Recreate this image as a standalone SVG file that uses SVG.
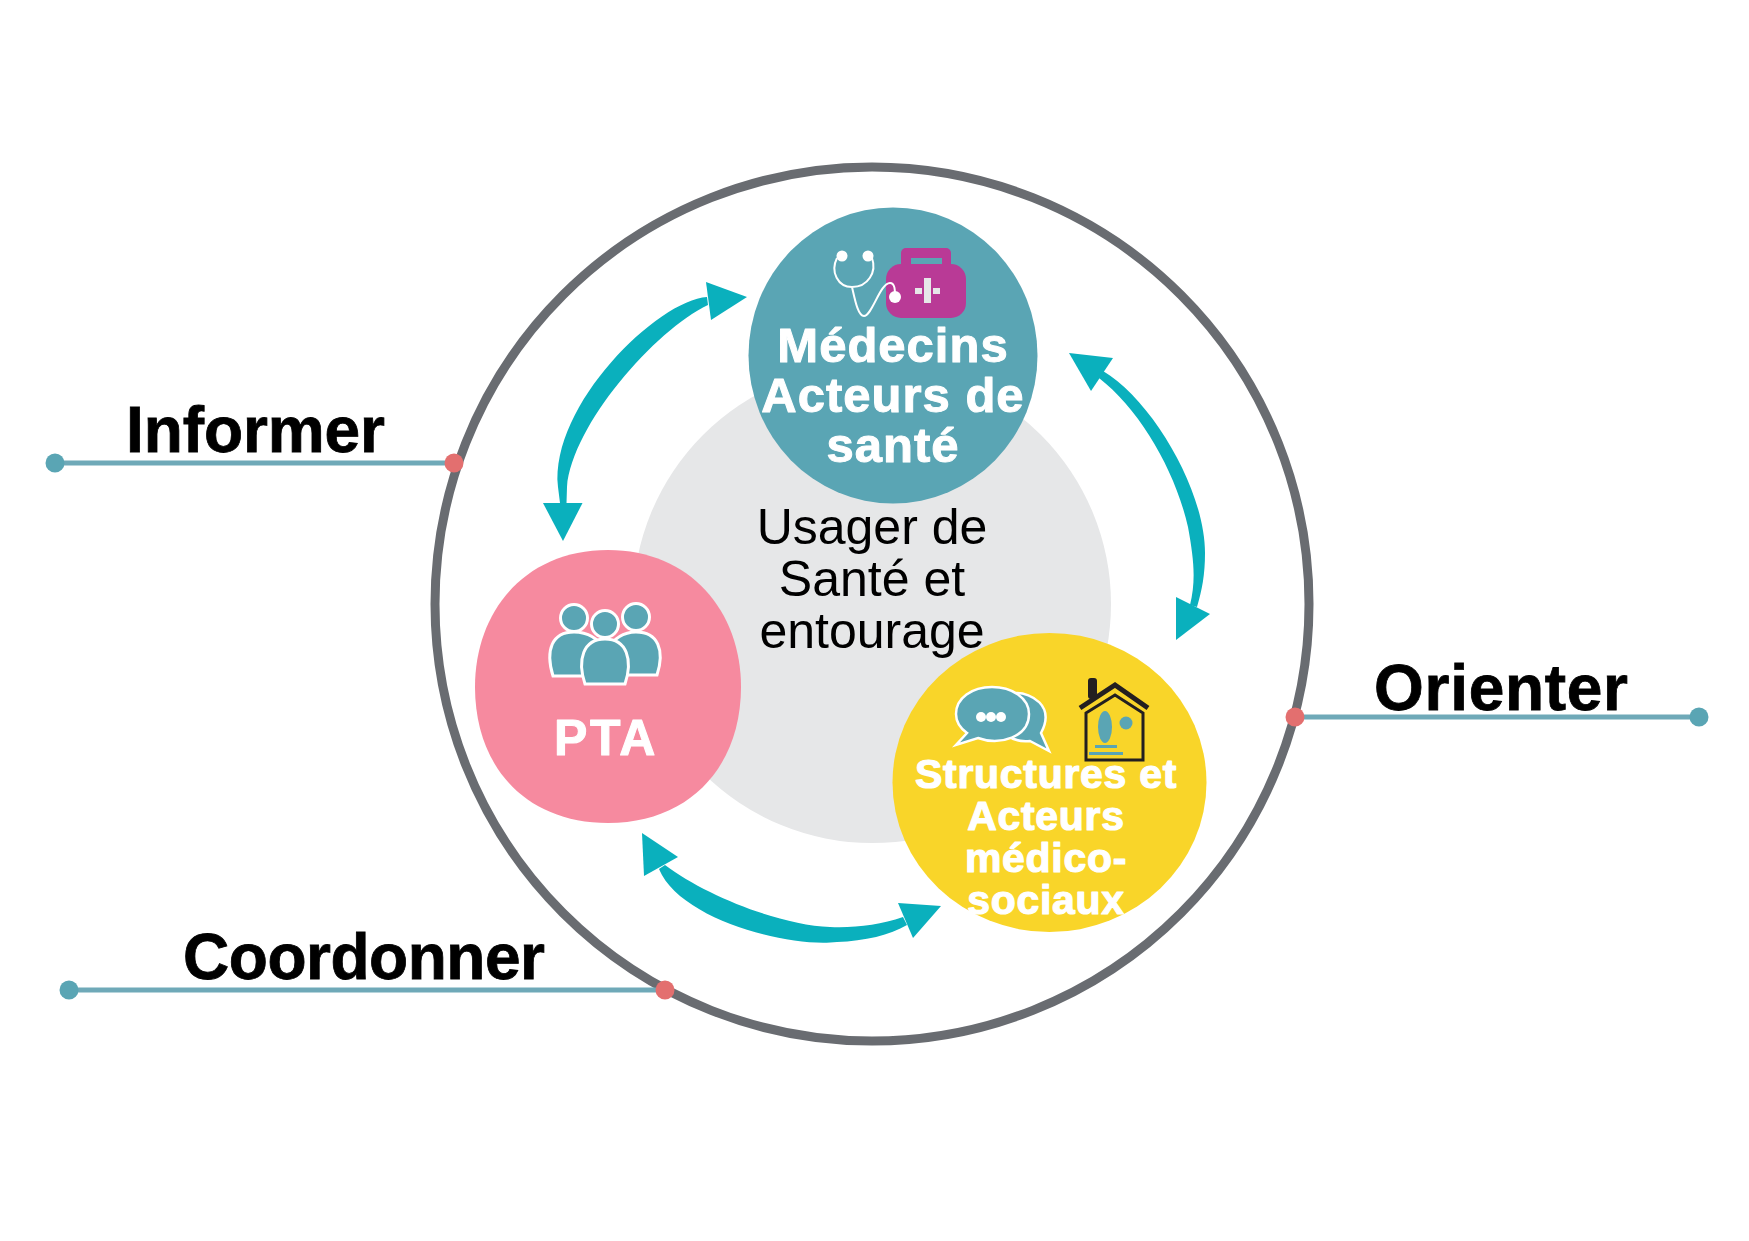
<svg xmlns="http://www.w3.org/2000/svg" width="1749" height="1241" viewBox="0 0 1749 1241">
<style>
.tick{stroke:#6fa9b8;stroke-width:5;fill:none}
.end{fill:#5aa5b4}
.pin{fill:#e36f6f}
.verb{font:bold 64px "Liberation Sans",Arial,sans-serif;fill:#000;stroke:#000;stroke-width:.8}
.white{font-family:"Liberation Sans",Arial,sans-serif;font-weight:bold;fill:#fff;stroke:#fff;stroke-linejoin:round;text-anchor:middle}
.arc{fill:#0ab0bd}
.person{fill:#5aa5b4;stroke:#fff;stroke-width:3}
</style>
<rect width="1749" height="1241" fill="#fff"/>
<g id="usager">
<circle cx="872" cy="604" r="239" fill="#e6e7e8"/>
<text font-family="'Liberation Sans',Arial,sans-serif" font-size="50" text-anchor="middle" fill="#000"><tspan x="872" y="544">Usager de</tspan><tspan x="872" y="596">Santé et</tspan><tspan x="872" y="648">entourage</tspan></text>
</g>
<g id="cycle">
<circle cx="872" cy="604" r="437" fill="none" stroke="#696c71" stroke-width="9"/>
</g>
<g id="connectors">
<path class="arc" d="M707,297C658,300 550,405 558,487L560,503H566.5L567,487C572,425 655,330 708,305Z"/>
<path class="arc" d="M706,282L747,297L711,320Z"/>
<path class="arc" d="M543,503H582.5L563,541Z"/>
<path class="arc" d="M1103,371C1152,400 1205,490 1205,553C1205,575 1202,590 1197,607L1190,605C1196,580 1194,560 1188,527C1175,470 1140,410 1099,378Z"/>
<path class="arc" d="M1069,353L1113,358L1091,391Z"/>
<path class="arc" d="M1176,597L1210,614L1176,640Z"/>
<path class="arc" d="M659,869C680,920 790,948 837,942C865,941 890,935 907,925L903,917C880,925 855,928 830,927C780,925 706,896 665,865Z"/>
<path class="arc" d="M642,833L678,857L644,876Z"/>
<path class="arc" d="M898,903L941,906L913,938Z"/>
<path class="tick" d="M55,463H454"/>
<path class="tick" d="M1295,717H1699"/>
<path class="tick" d="M69,990H665"/>
</g>
<g id="informer">
<circle class="end" cx="55" cy="463" r="9.5"/><circle class="pin" cx="454" cy="463" r="9.5"/>
<text class="verb" x="126" y="452" textLength="259">Informer</text>
</g>
<g id="orienter">
<circle class="end" cx="1699" cy="717" r="9.5"/><circle class="pin" cx="1295" cy="717" r="9.5"/>
<text class="verb" x="1374" y="710" textLength="254">Orienter</text>
</g>
<g id="coordonner">
<circle class="end" cx="69" cy="990" r="9.5"/><circle class="pin" cx="665" cy="990" r="9.5"/>
<text class="verb" x="183" y="979" textLength="362">Coordonner</text>
</g>
<g id="medecins">
<ellipse cx="893" cy="355.5" rx="144.5" ry="148" fill="#5aa5b4"/>
<path d="M901,264V253a5,5 0 0 1 5,-5H946a5,5 0 0 1 5,5V264Z" fill="#b93a96"/>
<rect x="911" y="258" width="31" height="6" fill="#5aa5b4"/>
<rect x="886" y="264" width="80" height="54" rx="15" fill="#b93a96"/>
<path d="M924,278h7v25h-7zM915,288h7v6h-7zM933,288h7v6h-7z" fill="#e6e7e8"/>
<path d="M837,258C830,272 838,287 852,287C868,287 877,272 872,258M852,287C855,300 858,316 864,316C872,316 880,283 890,283C895,283 895,290 895,297" fill="none" stroke="#fff" stroke-width="2"/>
<circle cx="842" cy="256" r="5.5" fill="#fff"/><circle cx="868" cy="256" r="5.5" fill="#fff"/><circle cx="895" cy="297" r="6" fill="#fff"/>
<text class="white" font-size="49" letter-spacing="1" stroke-width="1"><tspan x="893" y="362">Médecins</tspan><tspan x="893" y="412">Acteurs de</tspan><tspan x="893" y="462">santé</tspan></text>
</g>
<g id="pta">
<path d="M608,550C690,550 741,611 741,687C741,766 690,823 608,823C525,823 475,766 475,687C475,611 525,550 608,550Z" fill="#f68a9f"/>
<path class="person" d="M553,676C545,650 552,632 574,632C590,632 600,641 606,651L596,676Z"/>
<path class="person" d="M657,675C665,650 658,632 636,632C622,632 612,641 606,651L616,675Z"/>
<circle class="person" cx="574" cy="618" r="13.5"/><circle class="person" cx="636" cy="617" r="13.5"/><circle class="person" cx="605" cy="624" r="13.5"/>
<path class="person" d="M585,684C577,660 583,639 605,639C627,639 633,660 625,684Z"/>
<text class="white" x="606" y="755" font-size="50" letter-spacing="2.5" stroke-width="1">PTA</text>
</g>
<g id="structures">
<ellipse cx="1049.5" cy="782.5" rx="157" ry="149.5" fill="#f9d529"/>
<path d="M1030,741L1049,751L1041,733C1056,705 1030,693 1017,693C990,693 990,745 1030,741Z" fill="#5aa5b4" stroke="#fff" stroke-width="2.5"/>
<path d="M967,733L956,745L978,738C1000,746 1029,737 1029,714C1029,698 1012,687 992,687C972,687 956,698 956,714C956,722 960,728 967,733Z" fill="#5aa5b4" stroke="#fff" stroke-width="2.5"/>
<circle cx="981" cy="717" r="5" fill="#fff"/><circle cx="991" cy="717" r="5" fill="#fff"/><circle cx="1001" cy="717" r="5" fill="#fff"/>
<path d="M1086,713L1115,695L1143,713V760H1086Z" fill="none" stroke="#231f20" stroke-width="3"/>
<path d="M1080,708L1115,685L1148,708" fill="none" stroke="#231f20" stroke-width="5"/>
<rect x="1088" y="678" width="9" height="21" rx="3" fill="#231f20"/>
<ellipse cx="1105" cy="727" rx="7" ry="16" fill="#5aa5b4"/><circle cx="1126" cy="723" r="6.5" fill="#5aa5b4"/>
<rect x="1095" y="745" width="22" height="3" fill="#5aa5b4"/><rect x="1089" y="752" width="34" height="3" fill="#5aa5b4"/>
<text class="white" font-size="41" letter-spacing=".7" stroke-width="1.2"><tspan x="1046" y="788">Structures et</tspan><tspan x="1046" y="830">Acteurs</tspan><tspan x="1046" y="872">médico-</tspan><tspan x="1046" y="914">sociaux</tspan></text>
</g>
</svg>
